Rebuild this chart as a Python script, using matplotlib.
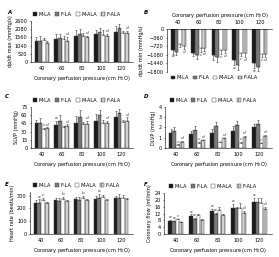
import matplotlib
matplotlib.use("Agg")
import matplotlib.pyplot as plt
import numpy as np

plt.rcParams['font.family'] = ['DejaVu Sans']
plt.rcParams['hatch.linewidth'] = 0.3

pressures = ["40", "60", "80", "100", "120"]
series = ["M-LA", "F-LA", "M-ALA", "F-ALA"]

# Panel A: dp/dt max
A_vals = [[1330, 1480, 1650, 1760, 1920],
          [1360, 1530, 1780, 1930, 2140],
          [1400, 1430, 1640, 1740, 1840],
          [1190, 1360, 1560, 1670, 1860]]
A_err = [[250, 300, 400, 300, 350],
         [300, 250, 320, 260, 300],
         [150, 200, 180, 270, 150],
         [120, 220, 110, 120, 140]]
# Panel B: dp/dt min
B_vals = [[-880, -990, -1090, -1300, -1440],
          [-960, -1090, -1160, -1510, -1580],
          [-640, -800, -880, -1020, -1050],
          [-720, -800, -880, -1020, -1050]]
B_err = [[150, 150, 200, 200, 200],
         [130, 170, 220, 200, 200],
         [120, 150, 160, 130, 120],
         [120, 120, 140, 140, 110]]
# Panel C: SLVP
C_vals = [[45, 42, 46, 50, 57],
          [45, 50, 57, 60, 63],
          [35, 38, 43, 45, 47],
          [36, 40, 44, 46, 50]]
C_err = [[7, 8, 12, 12, 10],
         [9, 10, 13, 10, 8],
         [1.5, 3, 5, 6, 5],
         [1.5, 3, 5, 4, 6]]
# Panel D: DLVP
D_vals = [[1.5, 1.35, 1.5, 1.65, 2.0],
          [1.65, 1.8, 2.1, 2.2, 2.3],
          [0.3, 0.5, 0.55, 0.5, 0.45],
          [0.6, 0.75, 0.95, 1.1, 1.2]]
D_err = [[0.35, 0.3, 0.35, 0.45, 0.35],
         [0.4, 0.35, 0.4, 0.45, 0.45],
         [0.05, 0.08, 0.08, 0.06, 0.08],
         [0.08, 0.05, 0.05, 0.05, 0.05]]
# Panel E: heart rate
E_vals = [[245, 265, 270, 275, 280],
          [245, 255, 265, 280, 280],
          [265, 275, 280, 290, 280],
          [240, 255, 265, 265, 270]]
E_err = [[18, 15, 18, 20, 20],
         [25, 25, 25, 30, 35],
         [15, 15, 15, 12, 25],
         [8, 10, 10, 12, 10]]
# Panel F: coronary flow
F_vals = [[7.8, 10.5, 13.5, 15.5, 18.5],
          [7.5, 8.8, 11.5, 15.0, 19.0],
          [8.8, 11.0, 14.0, 15.5, 18.0],
          [6.8, 8.5, 11.0, 12.5, 14.5]]
F_err = [[0.4, 1.0, 1.2, 2.0, 2.5],
         [0.4, 0.8, 1.0, 0.8, 2.0],
         [0.3, 1.0, 1.8, 2.5, 3.0],
         [0.3, 0.6, 0.8, 1.0, 1.5]]

# significance letters: (group index, series index, letter)
A_sig = [(1, 3, 'd'), (2, 3, 'd'), (3, 3, 'd'), (4, 3, 'd')]
B_sig = [(0, 0, 'a'), (0, 3, 'd'), (1, 2, 'c'), (1, 3, 'd'), (2, 2, 'c'), (2, 3, 'd'),
         (3, 0, 'a'), (3, 2, 'c'), (3, 3, 'd'), (4, 0, 'a'), (4, 2, 'c'), (4, 3, 'd')]
C_sig = [(0, 2, 'c'), (0, 3, 'd'), (1, 0, 'a'), (1, 3, 'd'), (2, 3, 'd'), (3, 3, 'd'), (4, 3, 'd')]
D_sig = [(0, 2, 'c'), (0, 3, 'd'), (1, 2, 'c'), (1, 3, 'd'), (2, 3, 'd'), (3, 2, 'c'),
         (3, 3, 'd'), (4, 2, 'c'), (4, 3, 'd')]
E_sig = [(0, 1, 'a'), (0, 2, 'c'), (1, 2, 'b'), (2, 2, 'b'), (3, 1, 'a')]
F_sig = [(0, 0, 'a'), (0, 1, 'a'), (0, 2, 'c'), (1, 0, 'a'), (1, 1, 'a'), (2, 0, 'a'),
         (2, 1, 'a'), (3, 0, 'a'), (3, 3, 'd'), (4, 0, 'a'), (4, 3, 'd')]

ylabels = ["dp/dt max (mmHg/s)", "dp/dt min (mmHg/s)", "SLVP (mmHg)",
           "DLVP (mmHg)", "Heart rate (beats/min)", "Coronary flow (ml/min)"]
xlabel = "Coronary perfusion pressure (cm H$_2$O)"

colors = ["#1c1c1c", "#7a7a7a", "#ffffff", "#d2d2d2"]
hatches = [None, None, None, "|||||"]

fig = plt.figure(figsize=(2.79, 2.57), dpi=100)

panels = [
    ("A", A_vals, A_err, A_sig, [0, 2600], [0, 520, 1040, 1560, 2080, 2600], [0.111, 0.759, 0.366, 0.159], False, (7, 13)),
    ("B", B_vals, B_err, B_sig, [-1800, 0], [0, -360, -720, -1080, -1440, -1800], [0.599, 0.720, 0.376, 0.167], True, (144, 13)),
    ("C", C_vals, C_err, C_sig, [0, 75], [0, 15, 30, 45, 60, 75], [0.111, 0.424, 0.366, 0.160], False, (5, 96)),
    ("D", D_vals, D_err, D_sig, [0, 4], [0, 1, 2, 3, 4], [0.591, 0.424, 0.384, 0.160], False, (144, 96)),
    ("E", E_vals, E_err, E_sig, [0, 330], [0, 100, 200, 300], [0.108, 0.089, 0.369, 0.165], False, (5, 184)),
    ("F", F_vals, F_err, F_sig, [0, 24], [0, 4, 8, 12, 16, 20, 24], [0.588, 0.089, 0.387, 0.160], False, (144, 184)),
]

fs = 3.6
x = np.arange(len(pressures))
w = 0.185
for (letter, vals, errs, sig, ylim, yticks, rect, neg, lpos), ylab in zip(panels, ylabels):
    ax = fig.add_axes(rect)
    handles = []
    for i in range(4):
        v = np.array(vals[i])
        e = np.array(errs[i])
        if neg:
            yerr = [e, np.zeros_like(e)]
        else:
            yerr = [np.zeros_like(e), e]
        b = ax.bar(x + (i - 1.5) * w, v, w, color=colors[i], edgecolor="#333333",
                   linewidth=0.3, hatch=hatches[i], yerr=yerr,
                   error_kw=dict(elinewidth=0.4, capsize=0.8, capthick=0.4, ecolor="#333333"),
                   label=series[i])
        handles.append(b)
    span = ylim[1] - ylim[0]
    for g, i, t in sig:
        v = vals[i][g]
        e = errs[i][g]
        if neg:
            yy = v - e - 0.02 * span
            va = "top"
        else:
            yy = v + e + 0.02 * span
            va = "bottom"
        ax.text(x[g] + (i - 1.5) * w, yy, t, fontsize=3.2, fontstyle="italic",
                ha="center", va=va, color="#333333")
    ax.set_ylim(ylim)
    ax.set_yticks(yticks)
    ax.set_xlim(-0.55, 4.6)
    ax.set_xticks(x)
    ax.set_xticklabels(pressures)
    ax.tick_params(labelsize=fs, length=1, width=0.4, pad=1.5)
    ax.tick_params(axis="x", length=0, pad=3)
    for s in ["top", "right"]:
        ax.spines[s].set_visible(False)
    ax.spines["left"].set_linewidth(0.4)
    ax.spines["bottom"].set_linewidth(0.4)
    ax.set_ylabel(ylab, fontsize=fs, labelpad=1.5)
    if neg:
        ax.xaxis.set_ticks_position("top")
        ax.xaxis.set_label_position("top")
        ax.spines["bottom"].set_visible(False)
        ax.spines["top"].set_visible(True)
        ax.spines["top"].set_linewidth(0.4)
        ax.set_xlabel(xlabel, fontsize=fs, labelpad=2)
        ax.legend(handles=handles, ncol=4, fontsize=fs, frameon=False,
                  loc="upper center", bbox_to_anchor=(0.45, -0.03),
                  handlelength=0.8, handleheight=0.8, handletextpad=0.3,
                  columnspacing=0.8, borderaxespad=0)
    else:
        ax.set_xlabel(xlabel, fontsize=fs, labelpad=2)
        ax.legend(handles=handles, ncol=4, fontsize=fs, frameon=False,
                  loc="lower center", bbox_to_anchor=(0.45, 1.05),
                  handlelength=0.8, handleheight=0.8, handletextpad=0.3,
                  columnspacing=0.8, borderaxespad=0)
    fig.text(lpos[0] / 279, 1 - lpos[1] / 257, letter, fontsize=4,
             fontstyle="italic", fontweight="bold", va="center", ha="left")

fig.savefig("out.png", dpi=100)
